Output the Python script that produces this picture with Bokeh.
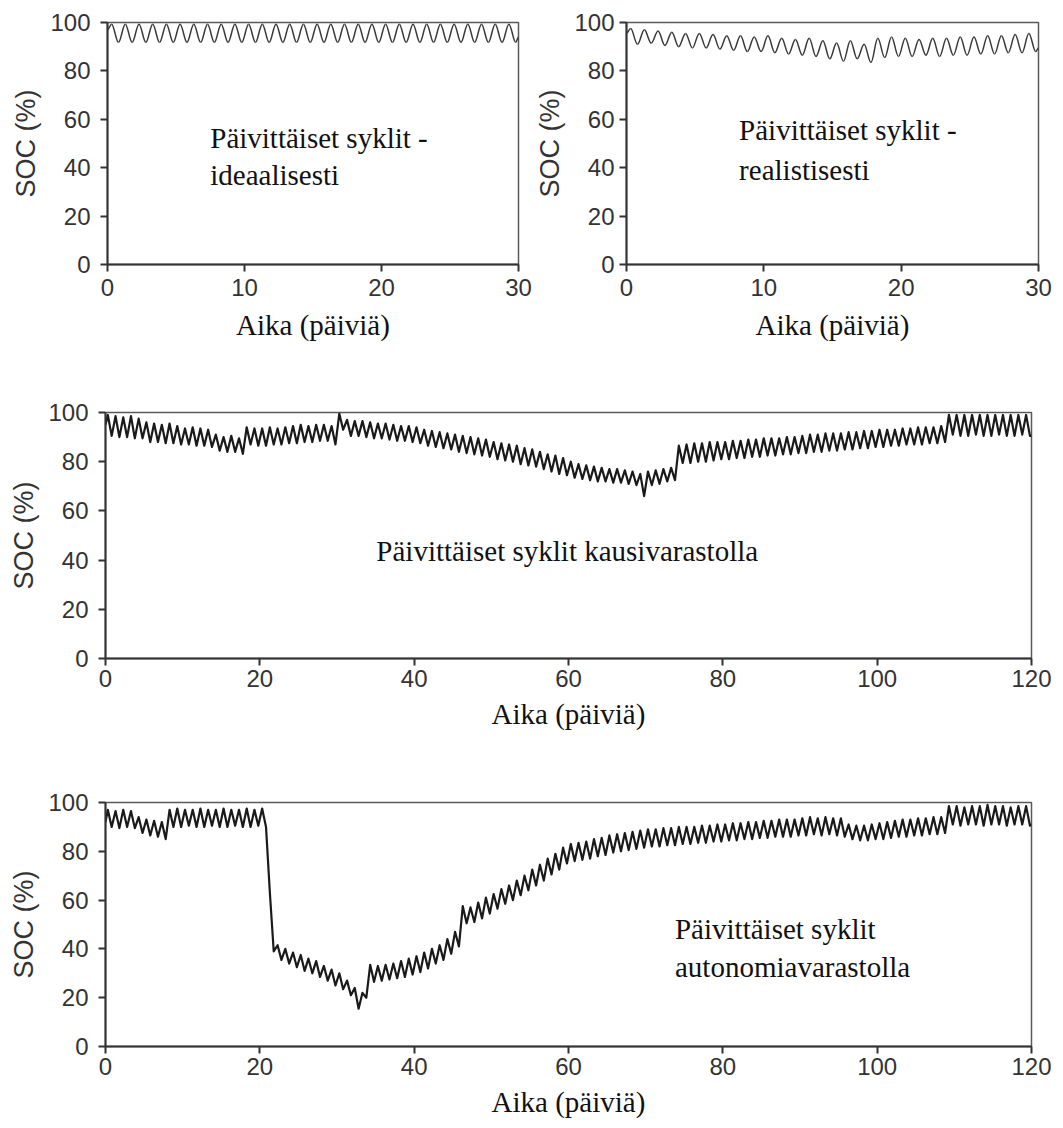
from bokeh.plotting import figure
from bokeh.layouts import column, row
from bokeh.models import Range1d, Label, FixedTicker
from bokeh.embed import file_html
from bokeh.resources import INLINE

SANS = "Liberation Sans"
SERIF = "Liberation Serif"

Y_TICKS = [0, 20, 40, 60, 80, 100]
X_TICKS_MONTH = [0, 10, 20, 30]
X_TICKS_SEASON = [0, 20, 40, 60, 80, 100, 120]

Y_LABEL = "SOC (%)"
X_LABEL = "Aika (päiviä)"

# Daily SOC maxima / minima (%), one pair per day

IDEAL_START, IDEAL_END = 97.0, 94.0
IDEAL_PEAK = [99.3, 99.3, 99.3, 99.3, 99.3, 99.3, 99.3, 99.3, 99.3, 99.3,
              99.3, 99.3, 99.3, 99.3, 99.3, 99.3, 99.3, 99.3, 99.3, 99.3,
              99.3, 99.3, 99.3, 99.3, 99.3, 99.3, 99.3, 99.3, 99.3, 99.3]
IDEAL_TROUGH = [91.8, 91.8, 91.8, 91.8, 91.8, 91.8, 91.8, 91.8, 91.8, 91.8,
                91.8, 91.8, 91.8, 91.8, 91.8, 91.8, 91.8, 91.8, 91.8, 91.8,
                91.8, 91.8, 91.8, 91.8, 91.8, 91.8, 91.8, 91.8, 91.8, 91.8]

REAL_START, REAL_END = 95.5, 89.5
REAL_PEAK = [97.5, 97.0, 96.5, 96.0, 95.5, 95.5, 95.0, 94.5, 94.5, 94.0,
             94.5, 93.5, 93.0, 93.5, 92.5, 91.5, 92.5, 91.0, 93.5, 94.0,
             93.5, 93.0, 93.5, 93.5, 94.0, 94.0, 94.5, 94.5, 95.0, 95.5]
REAL_TROUGH = [91.0, 91.5, 90.5, 90.0, 89.5, 89.5, 89.0, 88.5, 88.0, 88.0,
               87.5, 87.0, 86.5, 86.0, 85.0, 84.0, 85.0, 83.5, 85.5, 86.0,
               86.0, 86.5, 86.0, 86.5, 86.5, 87.0, 87.0, 87.5, 87.5, 88.0]

SEASONAL_START, SEASONAL_END = 95.0, 90.5
SEASONAL_PEAK = [
    99.0, 98.5, 98.0, 98.5, 97.5, 96.0, 95.5, 95.0, 95.5, 94.5,
    93.5, 94.0, 93.5, 93.0, 91.0, 90.0, 90.5, 89.5, 94.0, 93.5,
    93.5, 94.0, 93.5, 94.0, 94.5, 95.0, 94.5, 95.0, 95.0, 94.5,
    99.5, 97.0, 96.5, 96.5, 96.0, 95.5, 95.5, 95.0, 94.5, 94.5,
    94.0, 93.0, 92.5, 92.0, 91.5, 91.0, 90.5, 90.0, 89.5, 89.0,
    88.0, 87.5, 87.0, 86.5, 85.5, 85.0, 84.0, 83.0, 82.5, 81.5,
    80.0, 79.0, 78.5, 78.0, 77.5, 77.0, 77.0, 76.5, 76.0, 75.0,
    76.0, 76.5, 77.0, 77.5, 86.5, 87.0, 87.5, 87.5, 88.0, 88.0,
    88.0, 88.5, 88.5, 89.0, 89.0, 89.5, 89.5, 89.5, 90.0, 90.0,
    90.5, 91.0, 91.0, 91.5, 91.5, 91.5, 92.0, 92.0, 92.5, 92.5,
    93.0, 93.0, 93.0, 93.5, 93.5, 94.0, 94.0, 94.0, 94.5, 99.0,
    99.0, 99.0, 99.0, 99.0, 99.0, 99.0, 99.0, 99.0, 99.0, 99.0]
SEASONAL_TROUGH = [
    90.5, 90.0, 90.0, 89.5, 89.5, 88.0, 88.0, 87.5, 87.5, 87.0,
    87.0, 86.5, 86.5, 86.0, 84.5, 84.0, 84.0, 83.2, 87.0, 86.5,
    86.5, 87.0, 87.0, 87.5, 87.5, 88.0, 88.0, 88.5, 88.5, 87.0,
    93.0, 90.5, 90.5, 90.0, 89.5, 89.5, 89.0, 88.5, 88.5, 88.0,
    87.5, 86.5, 86.0, 85.5, 85.0, 84.0, 83.5, 83.0, 82.5, 82.0,
    81.0, 80.5, 80.0, 79.0, 78.5, 78.0, 77.0, 76.0, 75.0, 74.5,
    73.5, 73.0, 72.5, 72.0, 72.0, 71.5, 71.5, 71.0, 70.5, 66.0,
    70.5, 71.0, 72.0, 72.5, 79.5, 79.5, 80.0, 80.0, 80.5, 81.0,
    81.0, 81.5, 81.5, 82.0, 82.0, 82.5, 82.5, 83.0, 83.0, 83.5,
    83.5, 84.0, 84.0, 84.5, 84.5, 85.0, 85.0, 85.5, 85.5, 86.0,
    86.0, 86.5, 86.5, 87.0, 87.0, 87.0, 87.5, 87.5, 88.0, 91.0,
    90.5, 90.5, 91.0, 90.5, 90.5, 91.0, 90.5, 90.5, 91.0, 90.5]

AUTO_START, AUTO_END = 92.0, 91.0
AUTO_PEAK = [
    97.0, 96.5, 97.0, 96.5, 94.0, 93.0, 92.5, 92.0, 97.0, 97.5,
    97.0, 97.0, 97.5, 97.0, 97.0, 97.5, 97.0, 97.0, 97.5, 97.0,
    97.5, 63.0, 41.5, 40.0, 38.5, 37.5, 36.0, 35.0, 33.0, 31.5,
    30.0, 27.0, 24.0, 22.0, 33.5, 33.0, 33.5, 34.0, 35.0, 36.0,
    37.0, 38.5, 40.0, 41.5, 44.0, 47.0, 57.5, 57.0, 59.0, 61.0,
    62.5, 64.5, 66.0, 68.0, 70.0, 72.5, 74.5, 77.0, 79.0, 81.5,
    83.0, 83.5, 84.0, 85.0, 85.5, 86.5, 87.0, 87.5, 88.0, 88.5,
    89.0, 89.0, 89.5, 89.5, 90.0, 90.0, 90.0, 90.5, 90.5, 91.0,
    91.0, 91.5, 91.5, 92.0, 92.0, 92.5, 92.5, 93.0, 93.0, 93.0,
    93.5, 94.0, 93.5, 94.0, 93.5, 93.5, 91.0, 90.5, 90.5, 91.0,
    91.5, 92.0, 92.5, 93.0, 93.0, 93.5, 93.5, 94.0, 94.0, 98.5,
    98.5, 98.0, 98.5, 98.5, 99.0, 98.5, 98.5, 98.0, 98.5, 98.5]
AUTO_TROUGH = [
    90.0, 89.5, 90.0, 89.5, 87.5, 86.5, 86.0, 85.0, 90.0, 90.0,
    90.5, 90.0, 90.0, 90.5, 90.0, 90.0, 90.5, 90.0, 90.0, 90.5,
    90.0, 39.0, 35.5, 34.0, 32.5, 31.0, 30.0, 28.5, 27.0, 25.0,
    23.5, 21.0, 15.5, 20.0, 26.5, 27.0, 27.5, 28.0, 28.5, 29.5,
    30.5, 32.0, 34.0, 35.5, 38.0, 41.0, 50.5, 51.0, 52.5, 54.5,
    56.5, 58.5, 60.0, 62.0, 64.0, 66.0, 68.0, 70.5, 72.5, 75.0,
    76.0, 76.5, 77.0, 78.0, 78.5, 79.5, 80.0, 80.5, 81.0, 81.5,
    82.0, 82.0, 82.5, 82.5, 83.0, 83.0, 83.5, 83.5, 84.0, 84.0,
    84.5, 84.5, 85.0, 85.0, 85.5, 85.5, 86.0, 86.0, 86.0, 86.5,
    86.5, 87.0, 86.5, 87.0, 86.5, 86.0, 85.0, 84.5, 84.5, 85.0,
    85.0, 85.5, 86.0, 86.0, 86.5, 86.5, 87.0, 87.0, 87.5, 91.0,
    90.5, 91.0, 91.0, 90.5, 91.0, 91.0, 90.5, 91.0, 91.0, 90.5]

PEAK_PHASE, TROUGH_PHASE = 0.3, 0.8


def daily_series(start, peaks, troughs, end):
    """Time (days) and SOC points: start, then each day's maximum and minimum."""
    t, v = [0.0], [start]
    for day, (hi, lo) in enumerate(zip(peaks, troughs)):
        t += [day + PEAK_PHASE, day + TROUGH_PHASE]
        v += [hi, lo]
    t.append(float(len(peaks)))
    v.append(end)
    return t, v


def make_panel(x_end, x_ticks, frame_w, frame_h, left, right, top, bottom,
               tick_standoff, y_tick_standoff, xlabel_standoff):
    p = figure(frame_width=frame_w, frame_height=frame_h,
               x_range=Range1d(0, x_end), y_range=Range1d(0, 100),
               min_border_left=left, min_border_right=right,
               min_border_top=top, min_border_bottom=bottom,
               output_backend="svg", toolbar_location=None)
    p.grid.visible = False
    p.background_fill_color = "white"
    p.border_fill_color = "white"
    p.outline_line_color = "#5a5a5a"
    p.outline_line_width = 1.5

    for ax in (p.xaxis[0], p.yaxis[0]):
        ax.axis_line_color = "#333333"
        ax.axis_line_width = 2
        ax.major_tick_line_color = "#333333"
        ax.major_tick_line_width = 2
        ax.major_tick_out = 7
        ax.major_tick_in = 0
        ax.minor_tick_line_color = None
        ax.major_label_text_font = SANS
        ax.major_label_text_font_size = "24px"
        ax.major_label_text_color = "#333333"

    xa = p.xaxis[0]
    xa.ticker = FixedTicker(ticks=x_ticks)
    xa.major_label_standoff = tick_standoff
    xa.axis_label = X_LABEL
    xa.axis_label_text_font = SERIF
    xa.axis_label_text_font_size = "29px"
    xa.axis_label_text_font_style = "normal"
    xa.axis_label_text_color = "#111111"
    xa.axis_label_standoff = xlabel_standoff

    ya = p.yaxis[0]
    ya.ticker = FixedTicker(ticks=Y_TICKS)
    ya.major_label_standoff = y_tick_standoff
    ya.axis_label = Y_LABEL
    ya.axis_label_text_font = SANS
    ya.axis_label_text_font_size = "27px"
    ya.axis_label_text_font_style = "normal"
    ya.axis_label_text_color = "#333333"
    ya.axis_label_standoff = 6
    return p


def smooth_curve(p, t, v, color, width):
    """Cosine-like strokes between successive daily extremes."""
    k = 0.363
    x0, y0, x1, y1 = t[:-1], v[:-1], t[1:], v[1:]
    cx0 = [a + k * (b - a) for a, b in zip(x0, x1)]
    cx1 = [b - k * (b - a) for a, b in zip(x0, x1)]
    p.bezier(x0=x0, y0=y0, x1=x1, y1=y1, cx0=cx0, cy0=y0, cx1=cx1, cy1=y1,
             line_color=color, line_width=width)


def caption(p, x, y, text):
    p.add_layout(Label(x=x, y=y, text=text, text_font=SERIF,
                       text_font_size="29px", text_color="#111111",
                       text_align="left", text_baseline="alphabetic"))


# Daily cycles, ideal case
p1 = make_panel(30, X_TICKS_MONTH, 411, 242, 107, 14, 22, 112, 7, 10, 10)
t, v = daily_series(IDEAL_START, IDEAL_PEAK, IDEAL_TROUGH, IDEAL_END)
smooth_curve(p1, t, v, "#3a3a3a", 1.5)
caption(p1, 7.5, 52.3, "Päivittäiset syklit -")
caption(p1, 7.5, 37.0, "ideaalisesti")

# Daily cycles, realistic case
p2 = make_panel(30, X_TICKS_MONTH, 412, 242, 93, 26, 22, 112, 7, 5, 10)
t, v = daily_series(REAL_START, REAL_PEAK, REAL_TROUGH, REAL_END)
smooth_curve(p2, t, v, "#3a3a3a", 1.5)
caption(p2, 8.2, 55.7, "Päivittäiset syklit -")
caption(p2, 8.2, 39.0, "realistisesti")

# Daily cycles with seasonal storage
p3 = make_panel(120, X_TICKS_SEASON, 926, 246, 105, 32, 36, 112, 4, 10, 8)
t, v = daily_series(SEASONAL_START, SEASONAL_PEAK, SEASONAL_TROUGH, SEASONAL_END)
p3.line(t, v, line_color="#1a1a1a", line_width=2.2, line_join="round")
caption(p3, 35.1, 43.6, "Päivittäiset syklit kausivarastolla")

# Daily cycles with autonomy storage
p4 = make_panel(120, X_TICKS_SEASON, 926, 244, 105, 32, 32, 82, 4, 10, 8)
t, v = daily_series(AUTO_START, AUTO_PEAK, AUTO_TROUGH, AUTO_END)
p4.line(t, v, line_color="#1a1a1a", line_width=2.2, line_join="round")
caption(p4, 73.8, 48.0, "Päivittäiset syklit")
caption(p4, 73.8, 32.5, "autonomiavarastolla")

layout = column(row(p1, p2), p3, p4)

with open("out.html", "w") as f:
    f.write(file_html(layout, INLINE))
